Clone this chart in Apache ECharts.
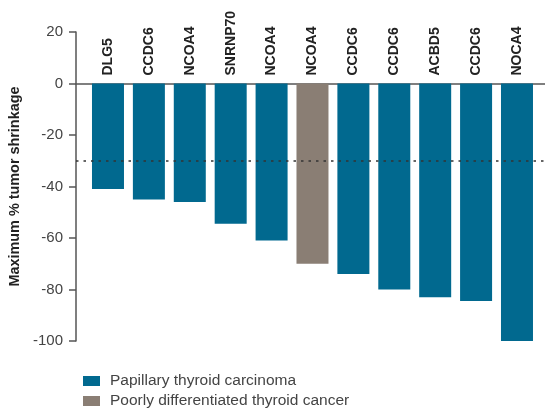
<!DOCTYPE html>
<html>
<head>
<meta charset="utf-8">
<script src="https://cdn.jsdelivr.net/npm/echarts@6/dist/echarts.min.js"></script>
<style>html,body{margin:0;padding:0;background:#fff}#c{width:545px;height:415px}</style>
</head>
<body>
<div id="c"></div>
<script>
var genes = ['DLG5','CCDC6','NCOA4','SNRNP70','NCOA4','NCOA4','CCDC6','CCDC6','ACBD5','CCDC6','NOCA4'];
var shrinkage = [-41,-45,-46,-54.5,-61,-70,-74,-80,-83,-84.5,-100];
var histology = ['PTC','PTC','PTC','PTC','PTC','PDTC','PTC','PTC','PTC','PTC','PTC'];
var seriesNames = {PTC:'Papillary thyroid carcinoma', PDTC:'Poorly differentiated thyroid cancer'};
var yTicks = [20,0,-20,-40,-60,-80,-100];
var threshold = -30;

function dataFor(type){
  var out = [];
  for (var i=0;i<genes.length;i++){ if (histology[i]===type) out.push([i, shrinkage[i]]); }
  return out;
}
var labelOpt = {
  show:true, position:'top', rotate:90, align:'left', verticalAlign:'middle', distance:8,
  fontFamily:'Liberation Sans', fontWeight:'bold', fontSize:14, color:'#222',
  formatter:function(p){ return genes[p.data[0]]; }
};
var chart = echarts.init(document.getElementById('c'));
chart.setOption({
  animation:false,
  textStyle:{fontFamily:'Liberation Sans'},
  grid:{left:76,right:0,top:32,bottom:74},
  legend:{
    orient:'vertical', left:83, top:373, padding:0, itemWidth:17, itemHeight:10, itemGap:4,
    icon:'rect', textStyle:{fontSize:15.5, color:'#444', lineHeight:15, padding:[0,0,0,5]},
    data:[seriesNames.PTC, seriesNames.PDTC]
  },
  xAxis:{
    type:'value', min:-0.782, max:10.685, splitLine:{show:false},
    axisLabel:{show:false}, axisTick:{show:false},
    axisLine:{show:true, onZero:true, lineStyle:{color:'#555', width:1.5}}
  },
  yAxis:{
    type:'value', min:-100, max:20, interval:20,
    name:'Maximum % tumor shrinkage', nameLocation:'middle', nameGap:50,
    nameTextStyle:{fontWeight:'bold', fontSize:14.4, color:'#222'},
    splitLine:{show:false},
    axisLine:{show:true, onZero:false, lineStyle:{color:'#555', width:1.5}},
    axisTick:{show:true, length:7, lineStyle:{color:'#555', width:1.5}},
    axisLabel:{fontSize:15, color:'#444', margin:13}
  },
  series:[
    {name:seriesNames.PTC, type:'bar', barWidth:32, barGap:'-100%', itemStyle:{color:'#01698f'},
     data:dataFor('PTC'), label:labelOpt,
     markLine:{silent:true, symbol:'none', label:{show:false},
       lineStyle:{type:[2.5,5], color:'#333', width:1.5}, data:[{yAxis:threshold}]}},
    {name:seriesNames.PDTC, type:'bar', barWidth:32, barGap:'-100%', itemStyle:{color:'#8a7e74'},
     data:dataFor('PDTC'), label:labelOpt}
  ]
});
</script>
</body>
</html>
